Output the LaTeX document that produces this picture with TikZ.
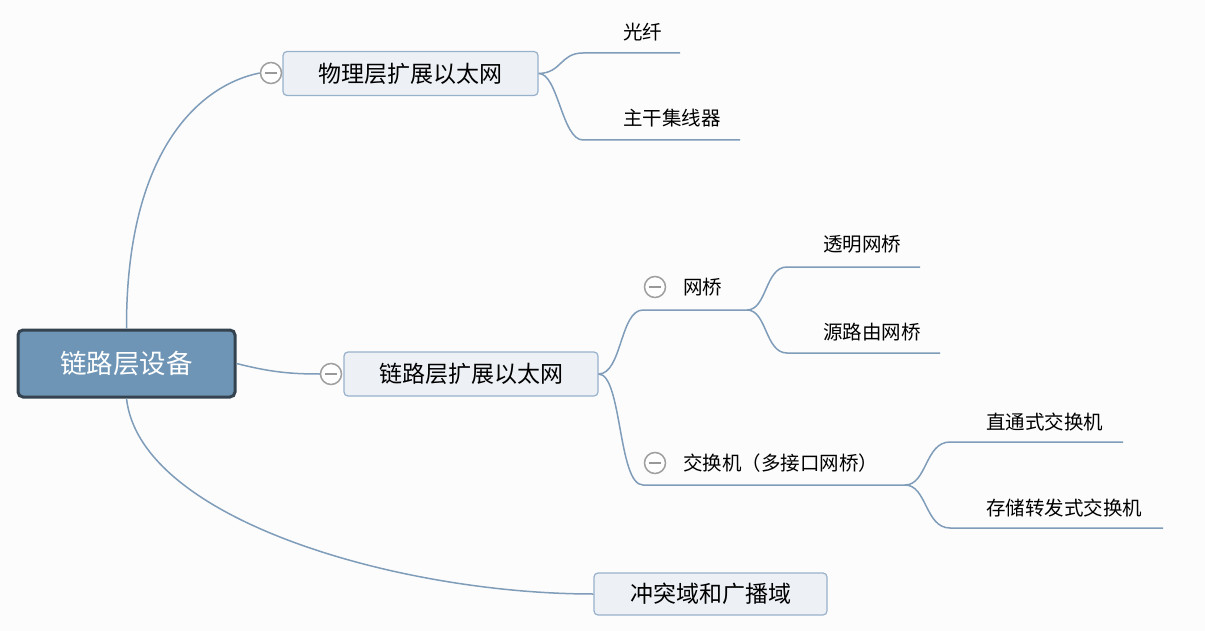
\documentclass[tikz,border=0pt]{standalone}
\usepackage{fontspec}
\setmainfont{Noto Sans CJK SC}
\definecolor{hubfill}{HTML}{6E95B5}
\definecolor{hubline}{HTML}{34434F}
\definecolor{boxfill}{HTML}{EDF1F6}
\definecolor{boxline}{HTML}{98B1CB}
\definecolor{branch}{HTML}{7F9CB9}
\definecolor{bg}{HTML}{FCFCFD}
\tikzset{
  hub/.style={draw=hubline, line width=3pt, fill=hubfill, rounded corners=5pt,
    minimum width=217pt, minimum height=67pt, text=white,
    font=\fontsize{26.5}{30}\selectfont},
  topic/.style={draw=boxline, line width=1.2pt, fill=boxfill, rounded corners=4pt,
    minimum height=44pt, font=\fontsize{23}{28}\selectfont},
  leaf/.style={anchor=west, inner sep=0pt, font=\fontsize{19.5}{24}\selectfont},
  fold/.style={circle, draw=gray!75, line width=1.5pt, fill=white, minimum size=21pt,
    inner sep=0pt, path picture={\draw[gray!80, line width=1.5pt]
      ([xshift=-6pt]path picture bounding box.center) --
      ([xshift=6pt]path picture bounding box.center);}},
  link/.style={draw=branch, line width=1.5pt},
}
\begin{document}
\begin{tikzpicture}[x=1pt, y=-1pt]
  \fill[bg] (0,0) rectangle (1205,631);
  \useasboundingbox (0,0) rectangle (1205,631);
  % central node and main topics
  \node[hub] (hub) at (126.5,363.5) {链路层设备};
  \node[topic, minimum width=255pt] (phys) at (410.5,73.5) {物理层扩展以太网};
  \node[topic, minimum width=254pt] (link) at (471,374) {链路层扩展以太网};
  \node[topic, minimum width=233pt, minimum height=42pt] (clash) at (710.5,594) {冲突域和广播域};
  \node[fold] (foldP) at (271,73) {};
  \node[fold] (foldL) at (331,374) {};
  \draw[link] (hub.north) .. controls (126,150) and (200,85) .. (foldP.west);
  \draw[link] (hub.east) .. controls (270,372) and (290,374) .. (foldL.west);
  \draw[link] (hub.south) .. controls (140,520) and (400,594) .. (clash.west);
  % physical layer leaves
  \node[leaf] (fiber) at (623,32) {光纤};
  \node[leaf] (trunk) at (623,118) {主干集线器};
  \coordinate (fiberA) at (583,53);
  \coordinate (fiberB) at (680,53);
  \coordinate (trunkA) at (583,140);
  \coordinate (trunkB) at (740,140);
  \draw[link] (phys.east) .. controls (562,73) and (560,53) .. (fiberA) -- (fiberB);
  \draw[link] (phys.east) .. controls (558,73) and (562,140) .. (trunkA) -- (trunkB);
  % bridges
  \node[fold] (foldB) at (655,287) {};
  \node[leaf] (bridge) at (683,287) {网桥};
  \coordinate (bridgeA) at (643,310);
  \coordinate (bridgeB) at (747,310);
  \draw[link] (link.east) .. controls (622,374) and (620,310) .. (bridgeA) -- (bridgeB);
  \node[leaf] (transp) at (823,244) {透明网桥};
  \node[leaf] (source) at (823,332) {源路由网桥};
  \coordinate (transpA) at (787,267);
  \coordinate (transpB) at (920,267);
  \coordinate (sourceA) at (787,353);
  \coordinate (sourceB) at (940,353);
  \draw[link] (bridgeB) .. controls (767,310) and (765,267) .. (transpA) -- (transpB);
  \draw[link] (bridgeB) .. controls (767,310) and (765,353) .. (sourceA) -- (sourceB);
  % switches
  \node[fold] (foldS) at (655,463) {};
  \node[leaf] (switch) at (683,463) {交换机（多接口网桥）};
  \coordinate (switchA) at (643,485);
  \coordinate (switchB) at (905,485);
  \draw[link] (link.east) .. controls (622,374) and (618,485) .. (switchA) -- (switchB);
  \node[leaf] (cut) at (986,422) {直通式交换机};
  \node[leaf] (store) at (986,508) {存储转发式交换机};
  \coordinate (cutA) at (950,442);
  \coordinate (cutB) at (1123,442);
  \coordinate (storeA) at (950,528);
  \coordinate (storeB) at (1163,528);
  \draw[link] (switchB) .. controls (927,485) and (925,442) .. (cutA) -- (cutB);
  \draw[link] (switchB) .. controls (927,485) and (925,528) .. (storeA) -- (storeB);
\end{tikzpicture}
\end{document}
